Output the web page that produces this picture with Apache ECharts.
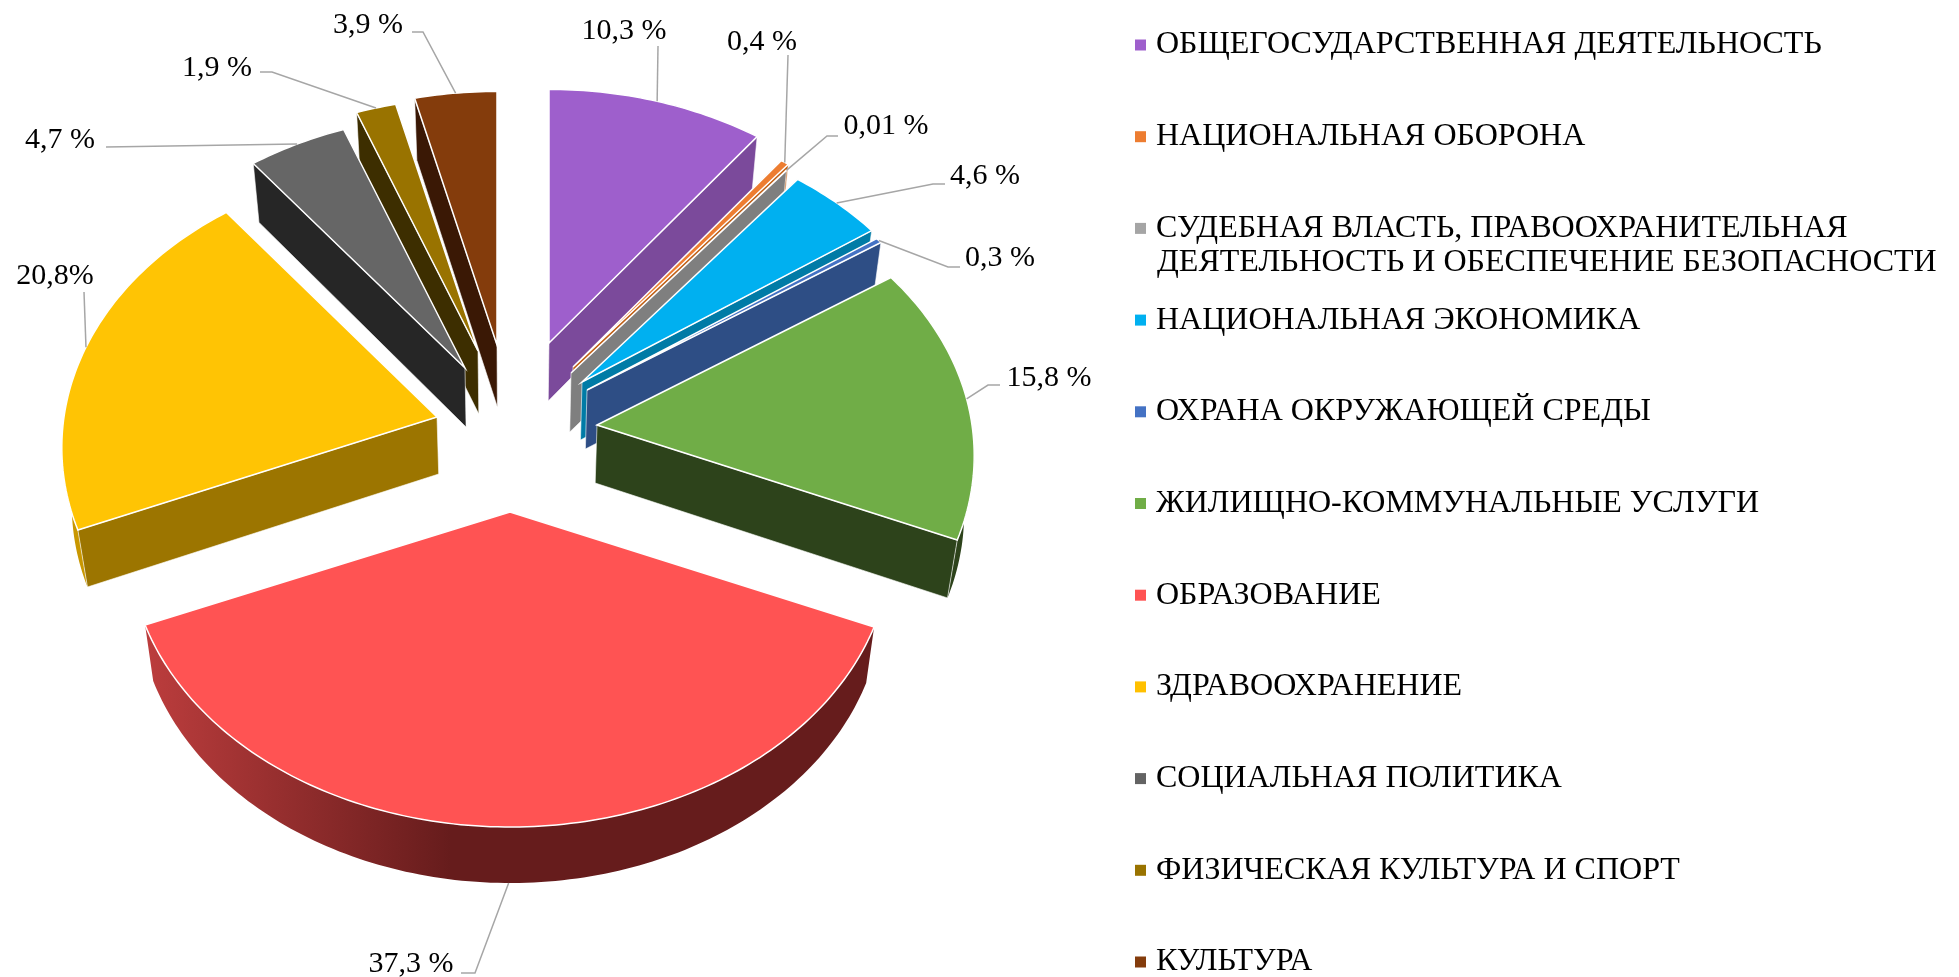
<!DOCTYPE html>
<html>
<head>
<meta charset="utf-8">
<title>Расходы бюджета</title>
<script src="https://cdn.jsdelivr.net/npm/echarts@6/dist/echarts.min.js"></script>
<style>
  html, body { margin: 0; background: #fff; }
  #chart { width: 1959px; height: 977px; }
</style>
</head>
<body>
<div id="chart"></div>
<script>
// data
const categories = [
    'ОБЩЕГОСУДАРСТВЕННАЯ ДЕЯТЕЛЬНОСТЬ',
    'НАЦИОНАЛЬНАЯ ОБОРОНА',
    'СУДЕБНАЯ ВЛАСТЬ, ПРАВООХРАНИТЕЛЬНАЯ ДЕЯТЕЛЬНОСТЬ И ОБЕСПЕЧЕНИЕ БЕЗОПАСНОСТИ',
    'НАЦИОНАЛЬНАЯ ЭКОНОМИКА',
    'ОХРАНА ОКРУЖАЮЩЕЙ СРЕДЫ',
    'ЖИЛИЩНО-КОММУНАЛЬНЫЕ УСЛУГИ',
    'ОБРАЗОВАНИЕ',
    'ЗДРАВООХРАНЕНИЕ',
    'СОЦИАЛЬНАЯ ПОЛИТИКА',
    'ФИЗИЧЕСКАЯ КУЛЬТУРА И СПОРТ',
    'КУЛЬТУРА'
];
const values = [10.3, 0.4, 0.01, 4.6, 0.3, 15.8, 37.3, 20.8, 4.7, 1.9, 3.9];
const valueLabels = ['10,3 %', '0,4 %', '0,01 %', '4,6 %', '0,3 %', '15,8 %', '37,3 %', '20,8%', '4,7 %', '1,9 %', '3,9 %'];

// colours
const faceColors = ['#9E5FCC', '#ED7D31', '#A5A5A5', '#00B0F0', '#4472C4', '#70AD47', '#FF5353', '#FFC404', '#666666', '#997300', '#843C0C'];
const wallColors = ['#7B4A9B', '#C05F15', '#7F7F7F', '#007BA6', '#2E4E85', '#2D431B', '#661C1C', '#9C7500', '#262626', '#3D2E00', '#3A1805'];
const legendColors = ['#9E5FCC', '#ED7D31', '#A5A5A5', '#00B0F0', '#4472C4', '#70AD47', '#FF5353', '#FFC000', '#636363', '#997300', '#843C0C'];

// layout of the exploded pie, in pixels
const pieCenter = [514, 430];
const radiusY = 281, perspective = 0.108, depthShrink = 0.978;
const radiusX = [375, 375, 375, 375, 375, 375, 379, 373, 375, 375, 375];
const depths = [58, 58, 59, 58, 59, 58, 56, 57, 59, 63, 62];
const explode = [[35, -87], [59, -63], [57, -57], [68, -48], [73, -40], [83, -5], [-4, 82], [-77, -13], [-49, -62], [-36, -79], [-17, -85]];
const drawOrder = [4, 5, 6, 7, 8, 9, 10, 3, 2, 1, 0];

// label text centre and leader line start (plus elbow if any)
const labelText = [[624, 31], [762, 42], [886, 126], [985, 176], [1000, 258], [1049, 378], [411, 964], [55, 276], [60, 140], [217, 68], [368, 25]];
const labelLine = [
    [[658, 46]], [[788, 55]], [[838, 136], [827, 136]], [[945, 184], [933, 184]], [[960, 267], [948, 267]],
    [[1000, 385], [988, 385]], [[461, 973], [475, 973]], [[84, 292]], [[106, 147]], [[260, 72], [272, 72]], [[412, 32], [423, 32]]
];

const total = values.reduce((a, b) => a + b, 0);
const starts = [];
values.reduce((sum, v, i) => { starts[i] = sum; return sum + v; }, 0);

function rim(i, deg) {
    const apex = apexOf(i);
    const t = deg * Math.PI / 180;
    const d = 1 + perspective * Math.cos(t);
    return [apex[0] + radiusX[i] * Math.sin(t) / d, apex[1] - radiusY * Math.cos(t) / d];
}
function lower(i, p) {
    return [pieCenter[0] + (p[0] - pieCenter[0]) * depthShrink, p[1] + depths[i]];
}
function arc(i, from, to) {
    const n = Math.max(2, Math.ceil(to - from));
    const pts = [];
    for (let k = 0; k <= n; k++) pts.push(rim(i, from + (to - from) * k / n));
    return pts;
}
function apexOf(i) {
    return [pieCenter[0] + explode[i][0], pieCenter[1] + explode[i][1]];
}
function angleOf(v) {
    return v / total * 360;
}
const wallEdge = { stroke: 'rgba(255,255,255,0.75)', lineWidth: 0.8 };

function renderSlice(params, api) {
    const i = api.value(0);
    const from = angleOf(api.value(1));
    const to = from + angleOf(api.value(2));
    const mid = (from + to) / 2;
    const apex = apexOf(i);
    const children = [];
    const wall = (a) => {
        const edge = rim(i, a);
        children.push({
            type: 'polygon',
            shape: { points: [apex, edge, lower(i, edge), lower(i, apex)] },
            style: Object.assign({ fill: wallColors[i] }, wallEdge)
        });
    };
    // rim below the face
    const a0 = Math.max(from, 97), a1 = Math.min(to, 263);
    if (a1 > a0) {
        const top = arc(i, a0, a1);
        let fill = wallColors[i];
        if (i === 6) {
            fill = new echarts.graphic.LinearGradient(0, 0, 1, 0, [
                { offset: 0, color: '#BC3D3D' },
                { offset: 0.42, color: '#661C1C' },
                { offset: 1, color: '#661C1C' }
            ]);
        } else if (i === 7) {
            fill = '#C99700';
        }
        children.push({
            type: 'polygon',
            shape: { points: top.concat(top.map((p) => lower(i, p)).reverse()) },
            style: { fill: fill }
        });
    }
    if (mid < 180 && to < 180) wall(to);
    if (mid > 180 && from > 180) wall(from);
    children.push({
        type: 'polygon',
        shape: { points: [apex].concat(arc(i, from, to)) },
        style: { fill: faceColors[i], stroke: '#fff', lineWidth: 1.5 }
    });
    return { type: 'group', children: children };
}

function renderLabel(params, api) {
    const i = api.value(0);
    const mid = angleOf(starts[i] + values[i] / 2);
    let anchor = rim(i, mid);
    if (i === 6) anchor = lower(i, anchor);
    return {
        type: 'group',
        children: [
            {
                type: 'polyline',
                shape: { points: labelLine[i].concat([anchor]) },
                style: { fill: null, stroke: '#A6A6A6', lineWidth: 1.5 }
            },
            {
                type: 'text',
                x: labelText[i][0],
                y: labelText[i][1],
                style: {
                    text: valueLabels[i],
                    font: '30px "Liberation Serif"',
                    fill: '#000',
                    align: 'center',
                    verticalAlign: 'middle'
                }
            }
        ]
    };
}

const sliceSeries = categories.map((name, i) => ({
    name: name,
    type: 'custom',
    coordinateSystem: 'none',
    z: 2 + drawOrder[i],
    itemStyle: { color: legendColors[i] },
    silent: true,
    renderItem: renderSlice,
    data: [[i, starts[i], values[i]]]
}));

const chart = echarts.init(document.getElementById('chart'));
chart.setOption({
    animation: false,
    backgroundColor: '#fff',
    legend: {
        orient: 'vertical',
        left: 1135,
        top: 29,
        height: 1000,
        padding: 0,
        data: categories,
        selectedMode: false,
        icon: 'rect',
        itemWidth: 11,
        itemHeight: 11,
        itemGap: 59.7,
        formatter: (name) => name.replace(/ ДЕЯТЕЛЬНОСТЬ И ОБЕСПЕЧЕНИЕ БЕЗОПАСНОСТИ$/, ''),
        textStyle: { fontFamily: 'Liberation Serif', fontSize: 32, color: '#000', lineHeight: 32, padding: [0, 0, 0, 5] }
    },
    graphic: [{
        type: 'text',
        left: 1157,
        top: 247,
        style: { text: 'ДЕЯТЕЛЬНОСТЬ И ОБЕСПЕЧЕНИЕ БЕЗОПАСНОСТИ', font: '32px "Liberation Serif"', fill: '#000' }
    }],
    series: sliceSeries.concat([{
        name: 'Подписи',
        type: 'custom',
        coordinateSystem: 'none',
        z: 20,
        silent: true,
        renderItem: renderLabel,
        data: values.map((v, i) => [i, v])
    }])
});
</script>
</body>
</html>
